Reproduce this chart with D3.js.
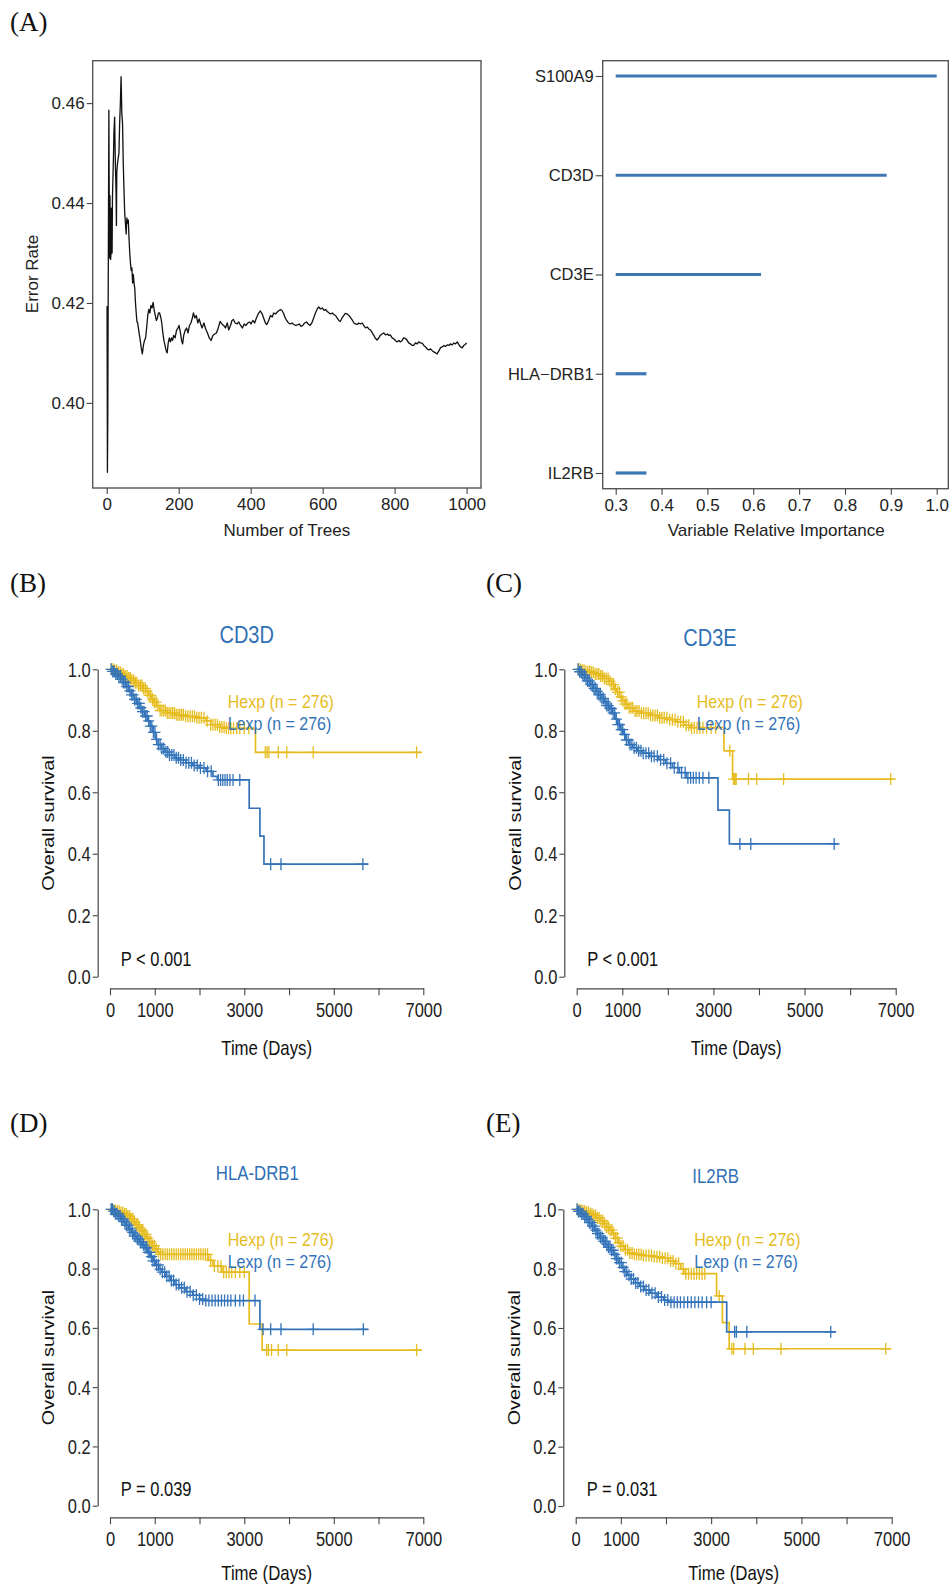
<!DOCTYPE html>
<html><head><meta charset="utf-8">
<script src="https://cdn.jsdelivr.net/npm/d3@7"></script>
<style>body{margin:0;background:#fff}</style>
</head><body><svg id="fig" width="949" height="1587"></svg>
<script>
// ---------------- DATA ----------------
// Panel A (left): OOB error rate vs number of trees
const errTrees = [1,2,3,4,5,6,7,8,9,10,11,12,13,14,15,16,17,18,19,20,22,24,26,27,28,30,32,34,36,38,40,42,44,46,48,50,52,54,56,58,60,62,64,66,68,70,72,74,76,78,80,82,84,86,88,90,93,96,99,102,105,108,111,114,117,120,123,126,129,132,135,138,141,144,147,150,153,156,159,162,165,168,171,174,177,180,183,186,190,194,198,201,205,208,211,214,218,222,226,230,234,238,241,245,249,253,257,261,265,270,275,280,285,290,295,300,305,310,315,320,325,330,335,339,344,348,352,357,362,367,372,377,382,387,392,397,401,406,411,416,421,427,432,437,441,445,450,455,460,464,469,474,479,483,487,491,495,500,505,510,515,520,525,530,535,540,545,550,555,560,565,570,575,580,585,589,594,599,604,608,613,618,622,627,631,636,640,645,649,654,659,663,668,673,678,683,687,691,696,700,705,710,714,719,724,728,733,738,742,746,751,756,760,765,770,775,780,784,788,793,798,802,807,812,816,821,825,830,835,839,844,849,853,858,863,867,872,877,881,886,890,895,900,905,909,914,918,923,927,932,937,941,946,951,955,960,965,969,974,979,983,988,992,996,1000];
const errRates = [0.4194,0.3861,0.3965,0.4190,0.4380,0.4586,0.4410,0.4290,0.4415,0.4340,0.4287,0.4300,0.4390,0.4370,0.4300,0.4410,0.4440,0.4470,0.4500,0.4540,0.4572,0.4480,0.4420,0.4355,0.4460,0.4480,0.4490,0.4500,0.4560,0.4600,0.4653,0.4580,0.4560,0.4480,0.4428,0.4380,0.4360,0.4338,0.4370,0.4360,0.4366,0.4330,0.4300,0.4280,0.4265,0.4270,0.4240,0.4257,0.4240,0.4229,0.4200,0.4180,0.4162,0.4160,0.4150,0.4140,0.4126,0.4110,0.4098,0.4115,0.4125,0.4130,0.4150,0.4175,0.4187,0.4180,0.4195,0.4190,0.4201,0.4185,0.4175,0.4165,0.4170,0.4180,0.4180,0.4172,0.4160,0.4140,0.4125,0.4115,0.4105,0.4100,0.4120,0.4130,0.4122,0.4130,0.4125,0.4135,0.4130,0.4145,0.4150,0.4155,0.4140,0.4125,0.4118,0.4135,0.4145,0.4150,0.4140,0.4155,0.4160,0.4170,0.4180,0.4170,0.4175,0.4160,0.4168,0.4158,0.4150,0.4160,0.4148,0.4140,0.4130,0.4125,0.4135,0.4138,0.4140,0.4150,0.4163,0.4158,0.4155,0.4150,0.4160,0.4146,0.4155,0.4165,0.4167,0.4160,0.4158,0.4162,0.4155,0.4150,0.4158,0.4155,0.4160,0.4162,0.4158,0.4165,0.4160,0.4170,0.4178,0.4184,0.4178,0.4168,0.4160,0.4157,0.4165,0.4175,0.4172,0.4180,0.4178,0.4182,0.4185,0.4187,0.4185,0.4180,0.4172,0.4165,0.4160,0.4158,0.4160,0.4157,0.4155,0.4156,0.4158,0.4153,0.4155,0.4160,0.4162,0.4158,0.4155,0.4160,0.4170,0.4180,0.4188,0.4192,0.4188,0.4190,0.4185,0.4187,0.4183,0.4180,0.4178,0.4180,0.4177,0.4175,0.4170,0.4165,0.4163,0.4170,0.4175,0.4179,0.4178,0.4175,0.4170,0.4165,0.4160,0.4158,0.4157,0.4160,0.4158,0.4160,0.4155,0.4150,0.4152,0.4148,0.4146,0.4140,0.4135,0.4130,0.4126,0.4130,0.4135,0.4138,0.4140,0.4136,0.4138,0.4135,0.4136,0.4130,0.4128,0.4125,0.4122,0.4125,0.4122,0.4125,0.4130,0.4129,0.4125,0.4120,0.4118,0.4115,0.4115,0.4120,0.4118,0.4122,0.4120,0.4119,0.4115,0.4112,0.4108,0.4106,0.4108,0.4104,0.4102,0.4100,0.4098,0.4104,0.4110,0.4112,0.4115,0.4113,0.4116,0.4115,0.4118,0.4116,0.4120,0.4118,0.4122,0.4116,0.4112,0.4110,0.4115,0.4117,0.4120];
const errTicksX = [0,200,400,600,800,1000];
const errTicksY = [0.40,0.42,0.44,0.46];

// Panel A (right): variable relative importance
const varNames = ["S100A9","CD3D","CD3E","HLA\u2212DRB1","IL2RB"];
const varImportance = [1.0,0.891,0.617,0.367,0.367];
const varTicks = [0.3,0.4,0.5,0.6,0.7,0.8,0.9,1.0];

// Kaplan-Meier panels: [time (days), survival] steps; last pair = end of follow-up
const kmTicksY = [0,0.2,0.4,0.6,0.8,1.0];
const kmTicksX = [0,1000,2000,3000,4000,5000,6000,7000];
const kmLabelsX = [0,1000,3000,5000,7000];
const groupNames = ["Hexp (n = 276)","Lexp (n = 276)"];

// (B) CD3D
const cd3dHexp = [[0,1],[80,0.996],[160,0.99],[240,0.984],[320,0.978],[400,0.972],[480,0.964],[560,0.956],[640,0.947],[720,0.938],[800,0.928],[860,0.915],[920,0.903],[980,0.893],[1040,0.882],[1110,0.866],[1250,0.858],[1450,0.852],[1650,0.847],[1900,0.842],[2150,0.832],[2250,0.820],[2450,0.812],[2600,0.808],[3250,0.73],[6960,0.73]];
const cd3dHexpCens = [35,75,110,150,190,230,265,300,340,380,420,455,490,530,565,600,640,680,715,750,790,830,870,910,950,990,1030,1070,1120,1160,1200,1240,1280,1320,1360,1400,1440,1480,1520,1560,1600,1640,1690,1740,1790,1840,1890,1940,1990,2040,2100,2170,2250,2300,2350,2400,2450,2500,2550,2600,2650,2700,2760,2830,2900,3000,3100,3470,3510,3550,3760,3950,4540,6850];
const cd3dLexp = [[0,1],[60,0.993],[120,0.985],[180,0.978],[240,0.968],[300,0.957],[360,0.944],[420,0.930],[480,0.917],[540,0.902],[600,0.889],[660,0.875],[720,0.862],[780,0.848],[840,0.832],[900,0.815],[960,0.795],[1020,0.772],[1080,0.755],[1150,0.742],[1230,0.731],[1330,0.721],[1450,0.712],[1560,0.705],[1700,0.696],[1850,0.687],[2000,0.679],[2150,0.668],[2300,0.652],[2400,0.640],[3110,0.548],[3350,0.457],[3440,0.366],[5770,0.366]];
const cd3dLexpCens = [25,60,95,130,165,200,235,270,305,340,375,410,445,480,515,550,585,620,655,690,725,760,795,830,865,900,935,970,1005,1040,1080,1120,1160,1200,1250,1290,1330,1380,1430,1480,1530,1580,1640,1700,1760,1820,1880,1950,2020,2100,2180,2260,2420,2470,2520,2570,2620,2680,2750,2900,3590,3820,5650];

// (C) CD3E
const cd3eHexp = [[0,1],[100,0.997],[200,0.993],[300,0.990],[400,0.985],[500,0.978],[600,0.970],[700,0.961],[770,0.950],[830,0.936],[880,0.925],[940,0.910],[1000,0.898],[1060,0.887],[1130,0.875],[1250,0.864],[1400,0.857],[1600,0.850],[1800,0.842],[2000,0.836],[2200,0.829],[2350,0.818],[2500,0.810],[3230,0.735],[3420,0.643],[6960,0.643]];
const cd3eHexpCens = [40,80,120,160,200,245,285,325,365,405,445,485,525,565,605,645,690,730,770,810,850,895,935,975,1015,1060,1100,1150,1190,1230,1280,1320,1370,1420,1470,1520,1570,1620,1670,1720,1770,1820,1870,1920,1980,2040,2100,2160,2220,2280,2340,2400,2460,2520,2580,2640,2700,2770,2850,2950,3050,3360,3440,3470,3500,3770,3950,4540,6890];
const cd3eLexp = [[0,1],[60,0.992],[120,0.982],[180,0.972],[240,0.962],[300,0.950],[360,0.938],[420,0.928],[480,0.917],[540,0.905],[600,0.894],[660,0.882],[720,0.872],[780,0.858],[840,0.838],[900,0.820],[960,0.804],[1020,0.788],[1080,0.770],[1150,0.755],[1230,0.745],[1330,0.735],[1450,0.727],[1600,0.717],[1800,0.706],[1950,0.694],[2100,0.680],[2250,0.664],[2400,0.647],[3100,0.542],[3350,0.432],[5740,0.432]];
const cd3eLexpCens = [30,65,100,135,170,205,240,275,310,345,380,415,450,485,520,555,590,625,660,695,730,765,800,835,870,905,940,975,1010,1050,1090,1130,1170,1210,1260,1310,1360,1410,1460,1520,1580,1640,1700,1770,1840,1910,1980,2060,2140,2220,2300,2380,2440,2500,2560,2620,2690,2770,2900,3580,3820,5650];

// (D) HLA-DRB1
const hlaHexp = [[0,1],[80,0.996],[160,0.993],[240,0.989],[320,0.984],[400,0.977],[460,0.968],[520,0.958],[580,0.948],[640,0.938],[700,0.927],[760,0.915],[820,0.903],[880,0.890],[940,0.877],[1000,0.866],[1060,0.856],[1120,0.848],[2200,0.828],[2300,0.808],[2500,0.788],[3110,0.613],[3400,0.525],[6960,0.525]];
const hlaHexpCens = [45,85,125,165,205,245,285,325,365,400,440,480,515,550,590,625,660,700,735,770,805,840,880,915,950,990,1030,1080,1130,1180,1230,1280,1330,1380,1430,1480,1530,1580,1630,1680,1730,1780,1830,1880,1930,1980,2030,2080,2130,2180,2250,2330,2410,2480,2540,2600,2660,2720,2800,2900,3000,3500,3540,3610,3760,3950,6850];
const hlaLexp = [[0,1],[60,0.993],[120,0.985],[180,0.977],[240,0.968],[300,0.958],[360,0.946],[420,0.934],[480,0.922],[540,0.910],[600,0.900],[660,0.890],[720,0.880],[780,0.870],[840,0.855],[900,0.840],[960,0.826],[1020,0.812],[1090,0.798],[1160,0.788],[1250,0.774],[1350,0.760],[1450,0.746],[1550,0.735],[1700,0.722],[1850,0.710],[2000,0.697],[2100,0.692],[3350,0.595],[5760,0.595]];
const hlaLexpCens = [25,55,90,120,155,190,225,260,295,330,365,400,435,470,505,540,575,610,645,680,715,750,785,820,855,890,925,960,1000,1040,1080,1120,1170,1220,1270,1320,1370,1420,1480,1540,1600,1660,1720,1790,1860,1930,2000,2070,2140,2210,2280,2350,2420,2490,2560,2630,2700,2800,2900,2980,3240,3420,3590,3820,4540,5660];

// (E) IL2RB
const il2rbHexp = [[0,1],[80,0.997],[160,0.994],[240,0.990],[320,0.985],[400,0.979],[470,0.971],[540,0.962],[610,0.952],[680,0.940],[750,0.930],[820,0.918],[880,0.903],[940,0.888],[1000,0.876],[1080,0.864],[1180,0.853],[1300,0.848],[1500,0.844],[1720,0.840],[1900,0.835],[2050,0.826],[2200,0.817],[2330,0.798],[2400,0.783],[3120,0.708],[3250,0.618],[3400,0.530],[6978,0.530]];
const il2rbHexpCens = [40,80,120,160,200,240,280,320,360,400,440,480,520,560,600,640,680,720,760,800,840,880,920,960,1000,1050,1100,1150,1200,1250,1300,1350,1400,1450,1500,1560,1620,1680,1740,1800,1860,1920,1980,2040,2100,2160,2220,2280,2380,2440,2500,2560,2620,2680,2740,2800,2860,3180,3460,3500,3750,3935,4548,6868];
const il2rbLexp = [[0,1],[60,0.993],[120,0.985],[180,0.976],[240,0.966],[300,0.955],[360,0.943],[420,0.930],[480,0.918],[540,0.905],[600,0.893],[660,0.882],[720,0.872],[780,0.862],[840,0.848],[900,0.834],[960,0.820],[1020,0.804],[1080,0.790],[1140,0.778],[1220,0.765],[1320,0.752],[1420,0.740],[1520,0.728],[1650,0.717],[1800,0.704],[1950,0.694],[2050,0.687],[3345,0.587],[5760,0.587]];
const il2rbLexpCens = [30,60,95,130,165,200,235,270,305,340,375,410,445,480,515,550,585,620,655,690,725,760,795,830,865,900,935,970,1010,1050,1090,1130,1180,1230,1280,1330,1380,1440,1500,1560,1620,1690,1760,1830,1900,1970,2040,2110,2180,2250,2320,2400,2480,2560,2640,2720,2800,2900,3000,3520,3560,3790,5650];

// ---------------- DRAW ----------------
const SANS = "'Liberation Sans', Arial, Helvetica, sans-serif";
const SERIF = "'Liberation Serif', 'Times New Roman', serif";
const YEL = "#E6BC1E", BLU = "#3373B9", TITLE_BLU = "#2F6FB6";
const KS = 1.2; // vertical stretch of KM panel text
const svg = d3.select("#fig");
svg.append("rect").attr("width",949).attr("height",1587).attr("fill","#fff");

function styleAxis(g, size){
  g.selectAll("text").attr("font-family",SANS).attr("font-size",size).attr("fill","#222");
  g.selectAll("line").attr("stroke","#444").attr("stroke-width",1.1);
}
function vtext(g, x, y, txt, size, fill, anchor, rot){
  const t = g.append("text")
    .attr("transform", rot ? `translate(${x},${y}) rotate(-90) scale(${KS},1)` : `translate(${x},${y}) scale(1,${KS})`)
    .attr("dy","0.35em").attr("text-anchor",anchor||"start")
    .attr("font-family",SANS).attr("font-size",size).attr("fill",fill).text(txt);
  return t;
}

// Panel letters
[["(A)",10,31],["(B)",10,592],["(C)",486,592],["(D)",10,1132],["(E)",486,1132]].forEach(([t,x,y])=>{
  svg.append("text").attr("x",x).attr("y",y).attr("font-family",SERIF).attr("font-size",27).attr("fill","#111").text(t);
});

// ----- Panel A left -----
{
  const box = {l:92.7, r:481, t:60.7, b:488};
  const x = d3.scaleLinear().domain([0,1000]).range([106.7,466.6]);
  const y = d3.scaleLinear().domain([0.40,0.46]).range([402.9,103.1]);
  const g = svg.append("g");
  g.append("rect").attr("x",box.l).attr("y",box.t).attr("width",box.r-box.l).attr("height",box.b-box.t)
    .attr("fill","none").attr("stroke","#555").attr("stroke-width",1.4);
  const ay = g.append("g").attr("transform",`translate(${box.l},0)`)
    .call(d3.axisLeft(y).tickValues(errTicksY).tickFormat(d3.format(".2f")).tickSize(6).tickPadding(2));
  ay.select(".domain").remove(); styleAxis(ay,17);
  const ax = g.append("g").attr("transform",`translate(0,${box.b})`)
    .call(d3.axisBottom(x).tickValues(errTicksX).tickFormat(d3.format("d")).tickSize(6).tickPadding(4));
  ax.select(".domain").remove(); styleAxis(ax,17);
  const pts = errTrees.map((t,i)=>[t,errRates[i]]);
  g.append("path").datum(pts).attr("fill","none").attr("stroke","#111").attr("stroke-width",1.3)
    .attr("stroke-linejoin","round")
    .attr("d",d3.line().x(d=>x(d[0])).y(d=>y(d[1])));
  g.append("text").attr("x",(box.l+box.r)/2).attr("y",536).attr("text-anchor","middle")
    .attr("font-family",SANS).attr("font-size",17).attr("fill","#222").text("Number of Trees");
  g.append("text").attr("transform","translate(38,274) rotate(-90)").attr("text-anchor","middle")
    .attr("font-family",SANS).attr("font-size",17).attr("fill","#222").text("Error Rate");
}

// ----- Panel A right -----
{
  const box = {l:602.7, r:948.3, t:60.7, b:488.7};
  const x = d3.scaleLinear().domain([0.3,1.0]).range([615.7,936.7]);
  const y = d3.scalePoint().domain(varNames).range([76,473]);
  const g = svg.append("g");
  g.append("rect").attr("x",box.l).attr("y",box.t).attr("width",box.r-box.l).attr("height",box.b-box.t)
    .attr("fill","none").attr("stroke","#555").attr("stroke-width",1.4);
  const ay = g.append("g").attr("transform",`translate(${box.l},0)`)
    .call(d3.axisLeft(y).tickSize(7).tickPadding(2));
  ay.select(".domain").remove(); styleAxis(ay,16.5);
  const ax = g.append("g").attr("transform",`translate(0,${box.b})`)
    .call(d3.axisBottom(x).tickValues(varTicks).tickFormat(d3.format(".1f")).tickSize(6).tickPadding(4));
  ax.select(".domain").remove(); styleAxis(ax,17);
  g.selectAll("line.imp").data(varNames).join("line").attr("class","imp")
    .attr("x1",x(0.3)).attr("x2",(d,i)=>x(varImportance[i]))
    .attr("y1",d=>y(d)).attr("y2",d=>y(d))
    .attr("stroke","#3C78B4").attr("stroke-width",3.2);
  g.append("text").attr("x",(x(0.3)+x(1.0))/2).attr("y",536).attr("text-anchor","middle")
    .attr("font-family",SANS).attr("font-size",17).attr("fill","#222").text("Variable Relative Importance");
}

// ----- KM panels -----
function survAt(steps,t){ let s=steps[0][1]; for(const [tt,ss] of steps){ if(tt<=t) s=ss; else break; } return s; }

function drawKM(cfg){
  const g = svg.append("g");
  const x = d3.scaleLinear().domain([0,7000]).range(cfg.xr);
  const y = d3.scaleLinear().domain([0,1]).range(cfg.yr);
  // y axis
  const ay = g.append("g").attr("transform",`translate(${cfg.yAxisX},0)`)
    .call(d3.axisLeft(y).tickValues(kmTicksY).tickFormat(d3.format(".1f")).tickSize(5).tickPadding(2).tickSizeOuter(0));
  ay.select(".domain").attr("stroke","#444").attr("stroke-width",1.2);
  styleAxis(ay,16.5);
  ay.selectAll("text").attr("x",null).attr("dy","0.35em").attr("transform",`translate(-7,0) scale(1,${KS})`);
  // x axis
  const ax = g.append("g").attr("transform",`translate(0,${cfg.xAxisY})`)
    .call(d3.axisBottom(x).tickValues(kmTicksX).tickFormat(d=>kmLabelsX.includes(d)?d:"").tickSize(7).tickPadding(9).tickSizeOuter(0));
  ax.select(".domain").attr("stroke","#444").attr("stroke-width",1.2);
  styleAxis(ax,16.5);
  ax.selectAll("text").attr("y",null).attr("dy","0.35em").attr("transform",`translate(0,21.7) scale(1,${KS})`);
  // curves
  const line = d3.line().curve(d3.curveStepAfter).x(d=>x(d[0])).y(d=>y(d[1]));
  [[cfg.h,cfg.hc,YEL],[cfg.l,cfg.lc,BLU]].forEach(([steps,cens,col])=>{
    g.append("path").datum(steps).attr("fill","none").attr("stroke",col).attr("stroke-width",1.7).attr("d",line);
    g.append("path").attr("fill","none").attr("stroke",col).attr("stroke-width",1.3)
      .attr("d",cens.map(t=>{const cx=x(t), cy=y(survAt(steps,t)); return `M${cx},${cy-6}V${cy+6}M${cx-5.5},${cy}H${cx+5.5}`;}).join(""));
  });
  // title
  vtext(g, cfg.title[1], cfg.title[2], cfg.title[0], cfg.titleSize, TITLE_BLU, "middle");
  // legend
  vtext(g, cfg.leg[0], cfg.leg[1], groupNames[0], 16, YEL);
  vtext(g, cfg.leg[0], cfg.leg[1]+22.3, groupNames[1], 16, BLU);
  // p value
  vtext(g, cfg.p[1], cfg.p[2], cfg.p[0], 16.5, "#111");
  // axis titles
  vtext(g, (cfg.xr[0]+cfg.xr[1])/2, cfg.xAxisY+cfg.tOff, "Time (Days)", 16.8, "#111", "middle");
  vtext(g, cfg.yAxisX-49.4, (cfg.yr[0]+cfg.yr[1])/2, "Overall survival", 16.5, "#111", "middle", true);
}

drawKM({xr:[110,423.3], yr:[976.7,669.3], yAxisX:97.7, xAxisY:988.3, tOff:60,
  h:cd3dHexp, hc:cd3dHexpCens, l:cd3dLexp, lc:cd3dLexpCens,
  title:["CD3D",246.7,635], titleSize:20, leg:[227.7,701], p:["P < 0.001",120.7,959.3]});
drawKM({xr:[576.7,895.7], yr:[976.7,669.3], yAxisX:564.3, xAxisY:988.3, tOff:60,
  h:cd3eHexp, hc:cd3eHexpCens, l:cd3eLexp, lc:cd3eLexpCens,
  title:["CD3E",710,637.3], titleSize:20, leg:[696.7,701], p:["P < 0.001",587.3,959.3]});
drawKM({xr:[110,423.3], yr:[1505.7,1209.3], yAxisX:97.7, xAxisY:1517.3, tOff:55.5,
  h:hlaHexp, hc:hlaHexpCens, l:hlaLexp, lc:hlaLexpCens,
  title:["HLA-DRB1",257.3,1173.3], titleSize:16.8, leg:[227.7,1239.3], p:["P = 0.039",120.7,1489]});
drawKM({xr:[575.7,891.7], yr:[1506,1209.3], yAxisX:563.3, xAxisY:1517.3, tOff:55.5,
  h:il2rbHexp, hc:il2rbHexpCens, l:il2rbLexp, lc:il2rbLexpCens,
  title:["IL2RB",715.7,1176], titleSize:16.8, leg:[694.3,1239.3], p:["P = 0.031",586.7,1489]});
</script>
</body></html>
